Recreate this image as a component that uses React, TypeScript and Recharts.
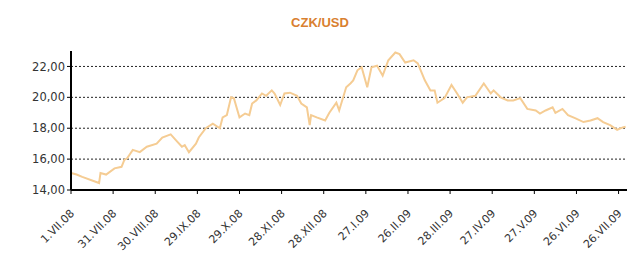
import React from 'react';
import { LineChart, Line, XAxis, YAxis, CartesianGrid } from 'recharts';

// day offsets from 1.VII.08
const DAYS = [
  0, 4, 8, 20, 21, 25, 31, 36, 38, 40, 44, 49, 54, 61, 65, 71, 75, 79, 81, 84,
  89, 91, 96, 101, 106, 108, 111, 114, 116, 120, 124, 127, 129, 132, 136, 139,
  143, 145, 149, 152, 156, 161, 164, 168, 170, 171, 175, 181, 184, 189, 191,
  196, 199, 201, 204, 207, 211, 214, 218, 222, 226, 231, 234, 238, 244, 247,
  252, 256, 259, 261, 266, 271, 275, 279, 282, 288, 294, 299, 301, 306, 311,
  315, 320, 325, 331, 334, 338, 343, 345, 350, 354, 359, 365, 370, 375, 379,
  384, 389, 393, 395,
];

const RATES = [
  15.1, 15.0, 14.85, 14.45, 15.1, 15.0, 15.4, 15.5, 15.95, 16.05, 16.6, 16.45,
  16.8, 17.0, 17.4, 17.6, 17.2, 16.8, 16.9, 16.45, 17.0, 17.4, 18.0, 18.3,
  18.0, 18.7, 18.85, 20.0, 19.95, 18.7, 18.95, 18.85, 19.6, 19.8, 20.25, 20.1,
  20.45, 20.25, 19.5, 20.25, 20.3, 20.1, 19.6, 19.35, 18.2, 18.85, 18.7, 18.5,
  19.0, 19.65, 19.15, 20.65, 20.9, 21.1, 21.75, 21.95, 20.65, 21.95, 22.05,
  21.4, 22.4, 22.9, 22.8, 22.25, 22.4, 22.2, 21.1, 20.45, 20.45, 19.65, 19.95,
  20.8, 20.25, 19.65, 20.0, 20.1, 20.9, 20.25, 20.45, 20.0, 19.8, 19.8, 19.95,
  19.25, 19.15, 18.95, 19.15, 19.35, 19.0, 19.25, 18.85, 18.65, 18.4, 18.5,
  18.65, 18.4, 18.2, 17.9, 18.05, 18.1,
];

const X_TICKS = [0, 30, 60, 90, 120, 150, 180, 210, 240, 270, 300, 330, 360, 390];
const X_LABELS = [
  '1.VII.08', '31.VII.08', '30.VIII.08', '29.IX.08', '29.X.08', '28.XI.08',
  '28.XII.08', '27.I.09', '26.II.09', '28.III.09', '27.IV.09', '27.V.09',
  '26.VI.09', '26.VII.09',
];
const Y_TICKS = [14, 16, 18, 20, 22];
const GRID_VALUES = [16, 18, 20, 22];

const data = DAYS.map((d, i) => ({ day: d, rate: RATES[i] }));

const FONT = '"DejaVu Sans", sans-serif';

const XTick = (props: any) => {
  const { x, y, payload } = props;
  const idx = X_TICKS.indexOf(payload.value);
  const ax = x + 4;
  const ay = y + 18;
  return (
    <text
      x={ax}
      y={ay}
      textAnchor="end"
      fontSize={11}
      fontFamily={FONT}
      fill="#333"
      transform={`rotate(-45, ${ax}, ${ay})`}
    >
      {X_LABELS[idx]}
    </text>
  );
};

export default function App() {
  return (
    <div style={{ position: 'fixed', left: 0, top: 0, width: 640, height: 261, background: '#fff' }}>
      <div
        style={{
          position: 'absolute',
          top: 15,
          width: 640,
          textAlign: 'center',
          fontFamily: '"Liberation Sans", Arial, sans-serif',
          fontWeight: 'bold',
          fontSize: 13,
          color: '#d98030',
        }}
      >
        CZK/USD
      </div>
      <LineChart width={640} height={261} data={data} margin={{ top: 51, right: 13, bottom: 0, left: 0 }}>
        <CartesianGrid
          horizontal
          vertical={false}
          horizontalValues={GRID_VALUES}
          stroke="#222"
          strokeDasharray="2 2"
        />
        <XAxis
          dataKey="day"
          type="number"
          domain={[0, 396]}
          ticks={X_TICKS}
          interval={0}
          height={71}
          axisLine={{ stroke: '#000', strokeWidth: 2 }}
          tickLine={{ stroke: '#000' }}
          tickSize={4}
          tick={<XTick />}
        />
        <YAxis
          type="number"
          domain={[14, 23]}
          ticks={Y_TICKS}
          interval={0}
          width={71}
          axisLine={{ stroke: '#000', strokeWidth: 2 }}
          tickLine={{ stroke: '#000' }}
          tickSize={4}
          tick={{ fontSize: 11.5, fontFamily: FONT, fill: '#333' }}
          tickFormatter={(v: number) => v.toFixed(2).replace('.', ',')}
        />
        <Line
          type="linear"
          dataKey="rate"
          stroke="#f5cc93"
          strokeWidth={2}
          dot={false}
          isAnimationActive={false}
        />
      </LineChart>
    </div>
  );
}
